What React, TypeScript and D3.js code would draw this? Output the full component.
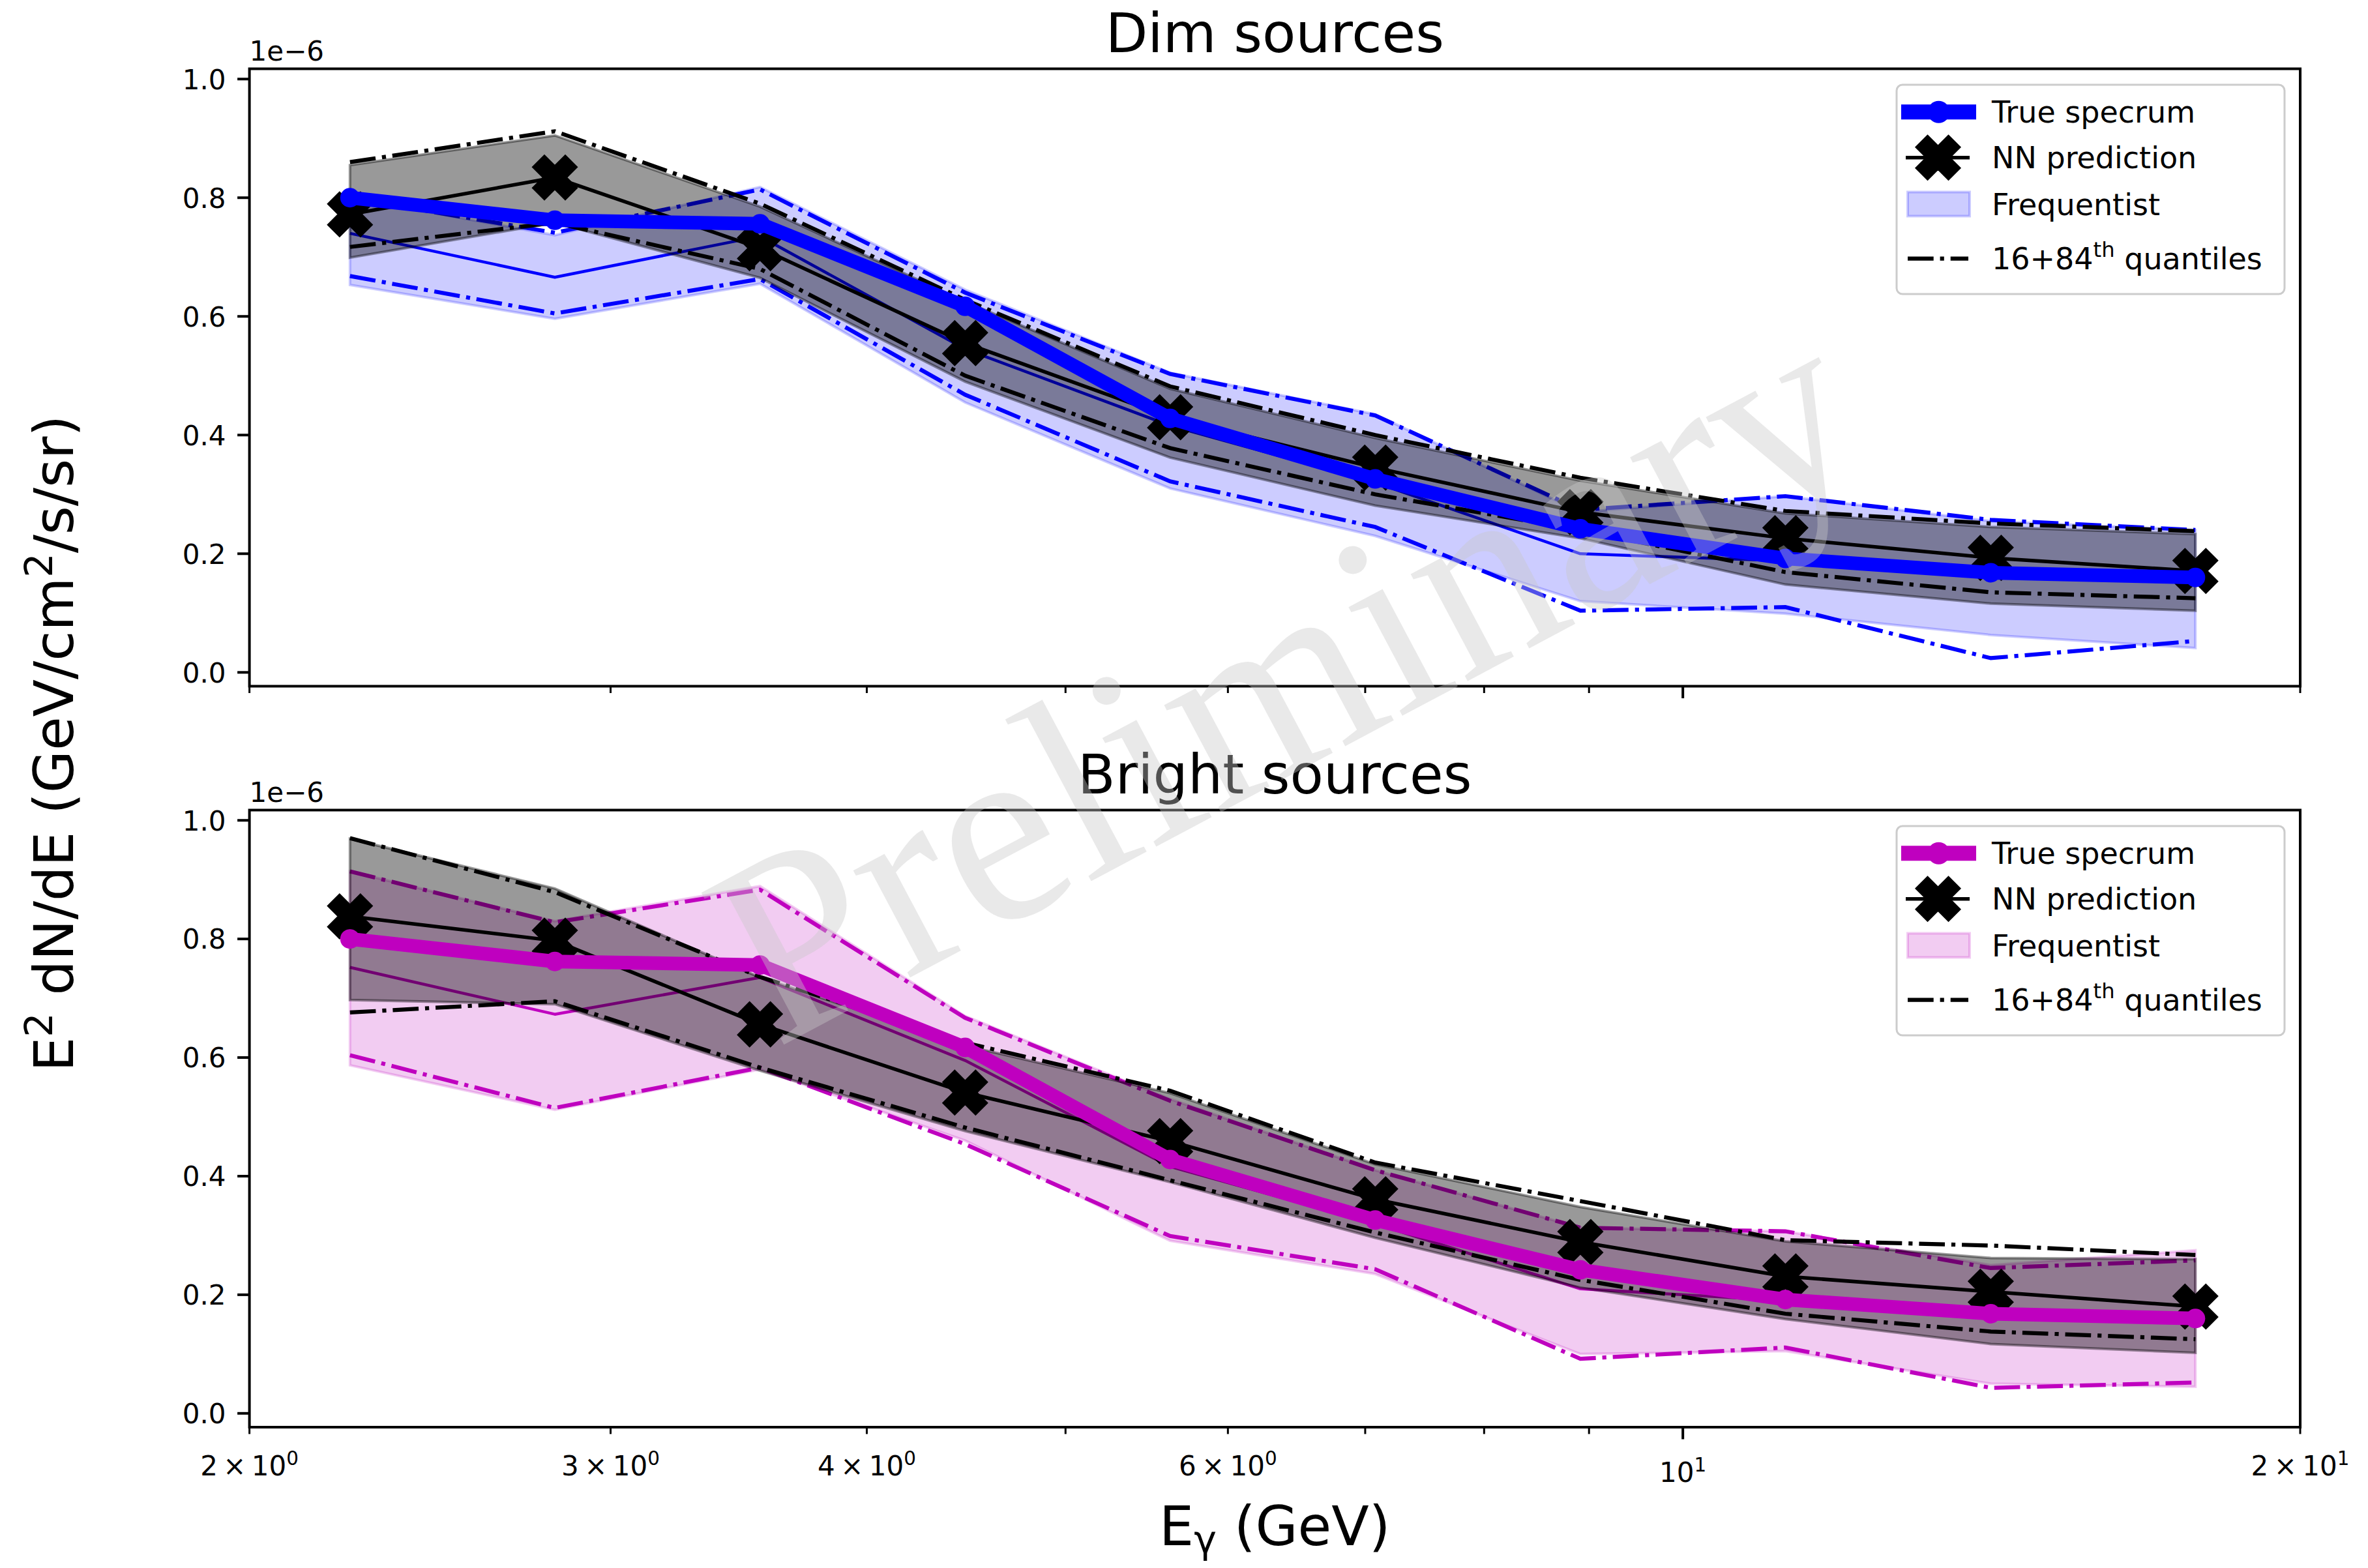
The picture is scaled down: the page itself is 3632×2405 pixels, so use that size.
import React from 'react';
import * as d3 from 'd3';

// Photon energy bin centres (GeV)
const ENERGY_GEV = [2.239, 2.818, 3.548, 4.467, 5.623, 7.079, 8.913, 11.22, 14.13, 17.78];

// E^2 dN/dE in units of 1e-6 GeV/cm^2/s/sr
const TRUE_SPECTRUM = [0.8, 0.762, 0.756, 0.617, 0.428, 0.326, 0.242, 0.192, 0.168, 0.16];

// Dim sources
const DIM_NN_MEDIAN = [0.772, 0.834, 0.715, 0.555, 0.43, 0.345, 0.27, 0.226, 0.193, 0.171];
const DIM_NN_Q84 = [0.86, 0.912, 0.79, 0.628, 0.482, 0.4, 0.328, 0.272, 0.251, 0.238];
const DIM_NN_Q16 = [0.717, 0.758, 0.68, 0.5, 0.378, 0.3, 0.24, 0.169, 0.135, 0.125];
const DIM_NN_BAND_HIGH = [0.855, 0.905, 0.785, 0.625, 0.478, 0.395, 0.323, 0.268, 0.245, 0.233];
const DIM_NN_BAND_LOW = [0.699, 0.758, 0.665, 0.49, 0.362, 0.281, 0.226, 0.148, 0.116, 0.104];
const DIM_FREQ_MEDIAN = [0.74, 0.666, 0.735, 0.545, 0.416, 0.32, 0.2, 0.188, 0.165, 0.157];
const DIM_FREQ_Q84 = [0.8, 0.741, 0.814, 0.64, 0.503, 0.433, 0.274, 0.297, 0.257, 0.24];
const DIM_FREQ_Q16 = [0.668, 0.605, 0.663, 0.468, 0.322, 0.245, 0.104, 0.11, 0.024, 0.053];
const DIM_FREQ_BAND_HIGH = [0.8, 0.737, 0.818, 0.645, 0.505, 0.435, 0.27, 0.297, 0.255, 0.24];
const DIM_FREQ_BAND_LOW = [0.653, 0.596, 0.655, 0.455, 0.31, 0.23, 0.12, 0.099, 0.063, 0.041];

// Bright sources
const BRIGHT_NN_MEDIAN = [0.838, 0.797, 0.656, 0.541, 0.459, 0.361, 0.289, 0.231, 0.205, 0.18];
const BRIGHT_NN_Q84 = [0.97, 0.879, 0.736, 0.625, 0.544, 0.423, 0.358, 0.292, 0.283, 0.267];
const BRIGHT_NN_Q16 = [0.676, 0.695, 0.583, 0.482, 0.393, 0.305, 0.225, 0.168, 0.138, 0.125];
const BRIGHT_NN_BAND_HIGH = [0.969, 0.885, 0.735, 0.62, 0.54, 0.42, 0.348, 0.29, 0.262, 0.26];
const BRIGHT_NN_BAND_LOW = [0.697, 0.69, 0.578, 0.476, 0.39, 0.296, 0.212, 0.159, 0.117, 0.102];
const BRIGHT_FREQ_MEDIAN = [0.752, 0.673, 0.735, 0.595, 0.416, 0.32, 0.21, 0.19, 0.168, 0.16];
const BRIGHT_FREQ_Q84 = [0.914, 0.828, 0.883, 0.667, 0.527, 0.41, 0.313, 0.307, 0.245, 0.258];
const BRIGHT_FREQ_Q16 = [0.604, 0.515, 0.583, 0.454, 0.299, 0.243, 0.092, 0.111, 0.043, 0.052];
const BRIGHT_FREQ_BAND_HIGH = [0.914, 0.83, 0.889, 0.67, 0.53, 0.41, 0.313, 0.307, 0.25, 0.275];
const BRIGHT_FREQ_BAND_LOW = [0.587, 0.512, 0.58, 0.46, 0.291, 0.235, 0.1, 0.105, 0.05, 0.045];

const PANEL_TITLES = ['Dim sources', 'Bright sources'];
const PANEL_COLORS = ['#0000ff', '#bf00bf'];
const LEGEND_LABELS = ['True specrum', 'NN prediction', 'Frequentist', '16+84'];

const Y_TICKS = [0, 0.2, 0.4, 0.6, 0.8, 1.0];
const X_MAJOR_TICKS = [10];
const X_MINOR_TICKS = [2, 3, 4, 5, 6, 7, 8, 9, 20];
const X_TICK_LABELS = [
  { value: 2, mant: '2', exp: '0' },
  { value: 3, mant: '3', exp: '0' },
  { value: 4, mant: '4', exp: '0' },
  { value: 6, mant: '6', exp: '0' },
  { value: 10, mant: '', exp: '1' },
  { value: 20, mant: '2', exp: '1' },
];

// ---- layout ----
const FIG_W = 3632;
const FIG_H = 2405;
const AX_LEFT = 382.6;
const AX_RIGHT = 3528;
const PANEL_BOXES = [
  [105.5, 1052.5],
  [1242.5, 2189],
];
const FONT = "'DejaVu Sans', sans-serif";
const TICK_FONT = 42;
const LABEL_FONT = 84;
const LEGEND_FONT = 46;

const LW_TRUE = 21;
const LW_NN = 5.5;
const LW_FREQ = 4.5;
const LW_Q = 6.2;
const DASH_DOT = [6.4, 1.6, 1.0, 1.6].map((d) => d * LW_Q).join(' ');

// filled 'X' marker outline in a unit square
const X_SHAPE = [
  [0.25, 0], [0.5, 0.25], [0.75, 0], [1, 0.25], [0.75, 0.5], [1, 0.75],
  [0.75, 1], [0.5, 0.75], [0.25, 1], [0, 0.75], [0.25, 0.5], [0, 0.25],
];
const xMarker = (cx: number, cy: number, s: number) =>
  'M' + X_SHAPE.map(([a, b]) => `${cx + (a - 0.5) * s},${cy + (b - 0.5) * s}`).join('L') + 'Z';

const PANEL_DATA = [
  {
    nnMedian: DIM_NN_MEDIAN, nnQ84: DIM_NN_Q84, nnQ16: DIM_NN_Q16,
    nnHigh: DIM_NN_BAND_HIGH, nnLow: DIM_NN_BAND_LOW,
    fMedian: DIM_FREQ_MEDIAN, fQ84: DIM_FREQ_Q84, fQ16: DIM_FREQ_Q16,
    fHigh: DIM_FREQ_BAND_HIGH, fLow: DIM_FREQ_BAND_LOW,
  },
  {
    nnMedian: BRIGHT_NN_MEDIAN, nnQ84: BRIGHT_NN_Q84, nnQ16: BRIGHT_NN_Q16,
    nnHigh: BRIGHT_NN_BAND_HIGH, nnLow: BRIGHT_NN_BAND_LOW,
    fMedian: BRIGHT_FREQ_MEDIAN, fQ84: BRIGHT_FREQ_Q84, fQ16: BRIGHT_FREQ_Q16,
    fHigh: BRIGHT_FREQ_BAND_HIGH, fLow: BRIGHT_FREQ_BAND_LOW,
  },
];

// shared y-limits: data extent with 5% margins
const ALL_VALUES = [TRUE_SPECTRUM, ...PANEL_DATA.flatMap((p) => Object.values(p))].flat();
const [Y_MIN, Y_MAX] = d3.extent(ALL_VALUES) as [number, number];
const Y_PAD = 0.05 * (Y_MAX - Y_MIN);
const Y_DOMAIN = [Y_MIN - Y_PAD, Y_MAX + Y_PAD];

const xScale = d3.scaleLog().domain([2, 20]).range([AX_LEFT, AX_RIGHT]);

function Legend({ top, color }: { top: number; color: string }) {
  const left = 2909;
  const w = 595;
  const h = 321;
  const rows = [41.7, 111.7, 183, 266.7].map((r) => top + r);
  const hx0 = left + 7;
  const hx1 = left + 122;
  const hc = (hx0 + hx1) / 2;
  const tx = left + 146;
  const base = 0.36 * LEGEND_FONT;
  return (
    <g>
      <rect x={left} y={top} width={w} height={h} rx={9} fill="#ffffff" fillOpacity={0.8} stroke="#cccccc" strokeWidth={3} />
      <line x1={hx0} x2={hx1} y1={rows[0]} y2={rows[0]} stroke={color} strokeWidth={LW_TRUE + 2} />
      <circle cx={hc} cy={rows[0]} r={17} fill={color} />
      <line x1={left + 14} x2={left + 112} y1={rows[1]} y2={rows[1]} stroke="#000" strokeWidth={LW_NN} />
      <path d={xMarker(hc - 1, rows[1], 64)} fill="#000" stroke="#000" strokeWidth={5} strokeLinejoin="miter" />
      <rect x={left + 17} y={rows[2] - 18.5} width={95} height={37} fill={color} fillOpacity={0.2} stroke={color} strokeOpacity={0.2} strokeWidth={4} />
      <line x1={left + 17} x2={left + 110} y1={rows[3]} y2={rows[3]} stroke="#000" strokeWidth={LW_Q} strokeDasharray={DASH_DOT} />
      <g fontFamily={FONT} fontSize={LEGEND_FONT} fill="#000">
        <text x={tx} y={rows[0] + base}>{LEGEND_LABELS[0]}</text>
        <text x={tx} y={rows[1] + base}>{LEGEND_LABELS[1]}</text>
        <text x={tx} y={rows[2] + base}>{LEGEND_LABELS[2]}</text>
        <text x={tx} y={rows[3] + base}>
          {LEGEND_LABELS[3]}
          <tspan dy={-19} fontSize={LEGEND_FONT * 0.7}>th</tspan>
          <tspan dy={19}> quantiles</tspan>
        </text>
      </g>
    </g>
  );
}

function Panel({ index }: { index: number }) {
  const [top, bottom] = PANEL_BOXES[index];
  const color = PANEL_COLORS[index];
  const d = PANEL_DATA[index];
  const y = d3.scaleLinear().domain(Y_DOMAIN).range([bottom, top]);
  const line = d3.line<number>().x((_, i) => xScale(ENERGY_GEV[i])).y((v) => y(v));
  const band = (low: number[], high: number[]) =>
    d3.area<number>()
      .x((_, i) => xScale(ENERGY_GEV[i]))
      .y0((v) => y(v))
      .y1((_, i) => y(high[i]))(low) as string;
  const isBottom = index === PANEL_BOXES.length - 1;
  const titleY = top - 25.5;

  return (
    <g>
      {/* frequentist band, median and quantiles */}
      <path d={band(d.fLow, d.fHigh)} fill={color} fillOpacity={0.2} stroke={color} strokeOpacity={0.2} strokeWidth={4} />
      <path d={line(d.fMedian) as string} fill="none" stroke={color} strokeWidth={LW_FREQ} strokeLinejoin="round" />
      <path d={line(d.fQ84) as string} fill="none" stroke={color} strokeWidth={LW_Q} strokeDasharray={DASH_DOT} />
      <path d={line(d.fQ16) as string} fill="none" stroke={color} strokeWidth={LW_Q} strokeDasharray={DASH_DOT} />

      {/* network band and quantiles */}
      <path d={band(d.nnLow, d.nnHigh)} fill="#000" fillOpacity={0.4} stroke="#000" strokeOpacity={0.4} strokeWidth={4} />
      <path d={line(d.nnQ84) as string} fill="none" stroke="#000" strokeWidth={LW_Q} strokeDasharray={DASH_DOT} />
      <path d={line(d.nnQ16) as string} fill="none" stroke="#000" strokeWidth={LW_Q} strokeDasharray={DASH_DOT} />

      {/* network prediction */}
      <path d={line(d.nnMedian) as string} fill="none" stroke="#000" strokeWidth={LW_NN} strokeLinejoin="round" />
      {d.nnMedian.map((v, i) => (
        <path key={i} d={xMarker(xScale(ENERGY_GEV[i]), y(v), 64)} fill="#000" stroke="#000" strokeWidth={5} />
      ))}

      {/* true spectrum */}
      <path d={line(TRUE_SPECTRUM) as string} fill="none" stroke={color} strokeWidth={LW_TRUE} strokeLinejoin="round" strokeLinecap="square" />
      {TRUE_SPECTRUM.map((v, i) => (
        <circle key={i} cx={xScale(ENERGY_GEV[i])} cy={y(v)} r={15} fill={color} />
      ))}

      {/* frame */}
      <rect x={AX_LEFT} y={top} width={AX_RIGHT - AX_LEFT} height={bottom - top} fill="none" stroke="#000" strokeWidth={4} />

      {/* y axis */}
      {Y_TICKS.map((t) => (
        <g key={t}>
          <line x1={AX_LEFT - 18.5} x2={AX_LEFT} y1={y(t)} y2={y(t)} stroke="#000" strokeWidth={4} />
          <text x={AX_LEFT - 36} y={y(t) + 0.364 * TICK_FONT} textAnchor="end" fontFamily={FONT} fontSize={TICK_FONT}>
            {t.toFixed(1)}
          </text>
        </g>
      ))}
      <text x={AX_LEFT} y={top - 13} fontFamily={FONT} fontSize={TICK_FONT}>1e−6</text>

      {/* x axis ticks */}
      {X_MINOR_TICKS.map((t) => (
        <line key={'m' + t} x1={xScale(t)} x2={xScale(t)} y1={bottom} y2={bottom + 10.5} stroke="#000" strokeWidth={3} />
      ))}
      {X_MAJOR_TICKS.map((t) => (
        <line key={'M' + t} x1={xScale(t)} x2={xScale(t)} y1={bottom} y2={bottom + 18.5} stroke="#000" strokeWidth={4} />
      ))}
      {isBottom &&
        X_TICK_LABELS.map((l) => (
          <text
            key={l.value}
            x={xScale(l.value)}
            y={bottom + (X_MAJOR_TICKS.includes(l.value) ? 84 : 74)}
            textAnchor="middle"
            fontFamily={FONT}
            fontSize={TICK_FONT}
          >
            {l.mant ? `${l.mant}\u2009×\u200910` : '10'}
            <tspan dy={-16} fontSize={TICK_FONT * 0.7}>{l.exp}</tspan>
          </text>
        ))}

      <text x={(AX_LEFT + AX_RIGHT) / 2} y={titleY} textAnchor="middle" fontFamily={FONT} fontSize={LABEL_FONT}>
        {PANEL_TITLES[index]}
      </text>

      <Legend top={top + 24.5} color={color} />
    </g>
  );
}

export default function App() {
  const midX = (AX_LEFT + AX_RIGHT) / 2;
  const midY = (PANEL_BOXES[0][0] + PANEL_BOXES[1][1]) / 2;
  return (
    <div style={{ position: 'fixed', left: 0, top: 0, width: FIG_W, height: FIG_H, background: '#fff', overflow: 'hidden' }}>
      <svg width={FIG_W} height={FIG_H} viewBox={`0 0 ${FIG_W} ${FIG_H}`} style={{ display: 'block' }}>
        <rect width={FIG_W} height={FIG_H} fill="#fff" />
        {PANEL_BOXES.map((_, i) => (
          <Panel key={i} index={i} />
        ))}

        {/* shared axis labels */}
        <text x={midX} y={2370} textAnchor="middle" fontFamily={FONT} fontSize={LABEL_FONT}>
          E<tspan dy={12} fontSize={LABEL_FONT * 0.7}>γ</tspan>
          <tspan dy={-12}> (GeV)</tspan>
        </text>
        <text
          transform={`translate(${112}, ${midY - 7}) rotate(-90)`}
          textAnchor="middle"
          fontFamily={FONT}
          fontSize={LABEL_FONT}
        >
          E<tspan dy={-32} fontSize={LABEL_FONT * 0.7}>2</tspan>
          <tspan dy={32}> dN/dE (GeV/cm</tspan>
          <tspan dy={-32} fontSize={LABEL_FONT * 0.7}>2</tspan>
          <tspan dy={32}>/s/sr)</tspan>
        </text>

        {/* watermark */}
        <text
          x={2034}
          y={1160}
          transform="rotate(-28, 2034, 1160)"
          textAnchor="middle"
          fontFamily="'Liberation Serif', serif"
          fontSize={405}
          fill="rgb(200,200,200)"
          fillOpacity={0.4}
        >
          Preliminary
        </text>
      </svg>
    </div>
  );
}
